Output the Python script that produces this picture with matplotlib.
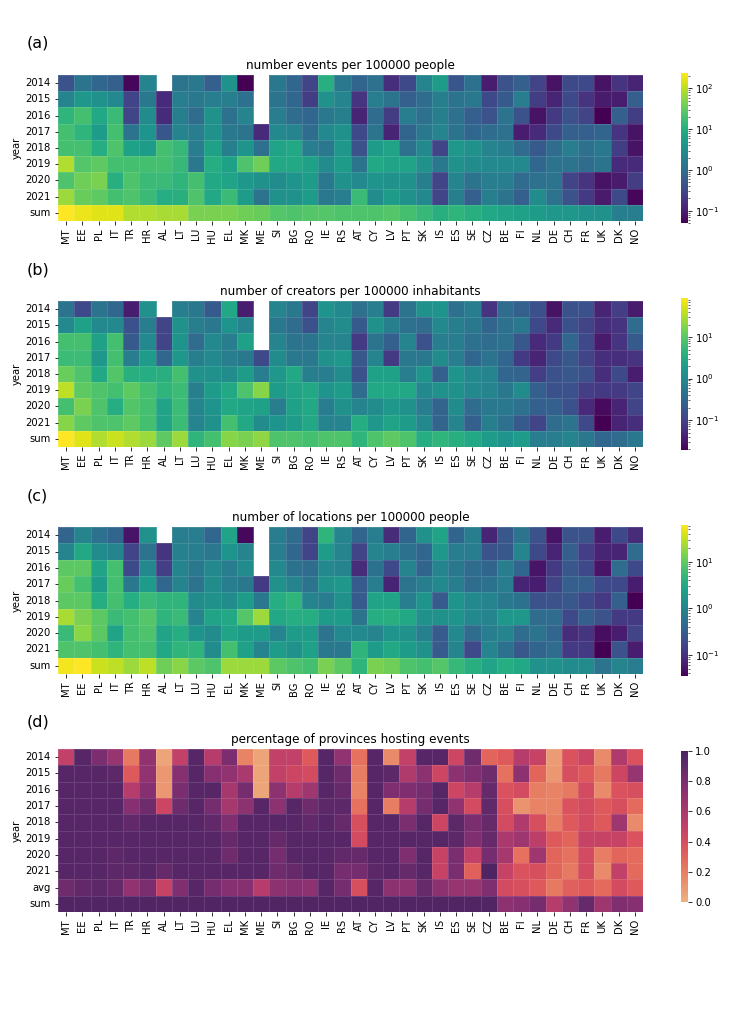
import numpy as np
import pandas as pd
import matplotlib
matplotlib.use("Agg")
import matplotlib.pyplot as plt
import seaborn as sns
from matplotlib.colors import LogNorm

nan = np.nan
countries = ["MT", "EE", "PL", "IT", "TR", "HR", "AL", "LT", "LU", "HU", "EL", "MK",
             "ME", "SI", "BG", "RO", "IE", "RS", "AT", "CY", "LV", "PT", "SK", "IS",
             "ES", "SE", "CZ", "BE", "FI", "NL", "DE", "CH", "FR", "UK", "DK", "NO"]
years = ["2014", "2015", "2016", "2017", "2018", "2019", "2020", "2021"]
rows_abc = years + ["sum"]
rows_d = years + ["avg", "sum"]

# (a) number of events per 100000 people, log10 values
events_log10 = [
    [-0.38, 0.10, -0.09, -0.20, -1.23, 0.36, nan, 0.10, 0.17, -0.20, 0.54, -1.30, nan, 0.17, -0.09, -0.56, 1.02, 0.17, -0.12, 0.06, -0.82, -0.49, 0.36, 0.72, -0.31, 0.06, -1.01, -0.38, -0.20, -0.56, -1.12, -0.49, -0.49, -1.12, -0.75, -0.93],
    [0.36, 0.65, 0.54, 0.43, -0.56, 0.17, -0.86, 0.25, 0.17, 0.25, 0.28, 0.06, nan, 0.10, -0.09, -0.64, 0.54, 0.36, -0.75, 0.25, 0.10, -0.20, -0.01, 0.28, 0.10, 0.17, -0.49, -0.27, 0.25, -0.64, -0.93, -0.49, -0.75, -1.04, -1.01, -0.20],
    [1.09, 1.28, 0.91, 1.20, -0.56, 0.47, -0.86, 0.28, -0.01, 0.54, 0.06, 0.36, nan, 0.25, -0.01, -0.09, 0.17, 0.28, -0.93, -0.01, -0.64, 0.25, 0.06, 0.28, 0.06, -0.20, -0.38, 0.10, -0.38, -1.12, -0.67, -0.38, -0.56, -1.30, -0.20, -0.64],
    [1.28, 1.09, 0.72, 1.28, 0.10, 0.61, -0.31, 0.36, 0.25, 0.54, 0.17, 0.10, -0.86, 0.43, 0.36, -0.01, 0.43, 0.54, -0.49, 0.10, -0.93, -0.12, 0.17, 0.36, 0.10, -0.09, -0.01, 0.06, -1.01, -0.86, -0.49, -0.20, -0.20, -0.12, -0.75, -1.12],
    [1.28, 1.28, 0.98, 1.35, 0.80, 0.72, 1.28, 1.17, 0.25, 0.80, 0.28, 0.61, 0.06, 0.83, 0.91, 0.25, 0.17, 0.65, -0.38, 0.72, 0.83, 0.06, 0.43, -0.56, 0.65, 0.54, 0.36, 0.25, -0.01, -0.27, -0.01, 0.25, 0.06, 0.17, -0.64, -1.12],
    [1.94, 1.39, 1.46, 1.28, 1.28, 1.28, 1.28, 1.17, 0.17, 0.98, 0.80, 1.35, 1.57, 0.91, 0.91, 0.80, 0.47, 0.72, 0.10, 0.91, 0.83, 0.83, 0.54, 0.17, 0.54, 0.47, 0.43, 0.43, 0.43, -0.09, 0.10, 0.10, -0.01, 0.10, -0.86, -0.86],
    [1.35, 1.57, 1.64, 1.02, 1.35, 1.20, 1.20, 1.09, 1.28, 0.91, 0.83, 0.65, 0.54, 0.47, 0.61, 0.72, 0.17, 0.54, 0.43, 0.61, 0.54, 0.54, 0.28, -0.56, 0.36, 0.10, 0.25, 0.25, -0.01, 0.06, 0.10, -0.56, -0.75, -1.12, -1.04, -0.64],
    [1.83, 1.53, 1.46, 1.28, 1.35, 1.20, 0.98, 1.02, 1.35, 0.91, 1.20, 0.72, 0.10, 0.54, 0.54, 0.72, 0.17, 0.25, 1.20, 0.47, 0.72, 0.54, 0.43, -0.56, 0.28, -0.20, 0.28, 0.10, -0.20, 0.47, 0.10, -0.38, -0.67, -1.04, -0.49, -1.23],
    [2.38, 2.27, 2.20, 2.20, 1.94, 1.94, 1.90, 1.90, 1.64, 1.64, 1.64, 1.57, 1.53, 1.39, 1.35, 1.39, 1.39, 1.35, 1.35, 1.35, 1.39, 1.28, 1.17, 1.02, 1.09, 1.02, 0.91, 0.83, 0.80, 0.72, 0.65, 0.65, 0.54, 0.54, 0.28, 0.25],
]

# (b) number of creators per 100000 inhabitants, log10 values
creators_log10 = [
    [-0.33, -0.91, -0.33, -0.51, -1.43, 0.11, nan, -0.18, -0.26, -0.70, 0.48, -1.43, nan, -0.07, -0.26, -0.99, 0.18, 0.00, -0.37, -0.18, -1.10, -0.33, 0.11, 0.18, -0.37, -0.18, -1.17, -0.44, -0.62, -0.81, -1.54, -0.81, -0.81, -1.35, -1.06, -1.46],
    [0.00, 0.37, 0.00, 0.00, -0.81, -0.18, -0.99, 0.11, -0.15, -0.26, 0.18, -0.07, nan, -0.26, -0.44, -0.81, -0.07, 0.04, -0.70, 0.11, -0.15, -0.37, -0.44, 0.00, -0.15, -0.26, -0.55, -0.37, -0.26, -0.91, -1.28, -0.81, -0.99, -1.24, -1.17, -0.44],
    [0.84, 0.84, 0.37, 0.84, -0.70, 0.00, -0.99, 0.18, -0.44, 0.00, -0.18, 0.37, nan, -0.07, -0.33, -0.33, -0.07, -0.07, -1.10, -0.33, -0.62, -0.07, -0.81, -0.18, -0.18, -0.37, -0.44, -0.37, -0.73, -1.28, -1.10, -0.51, -0.91, -1.46, -1.17, -0.70],
    [0.77, 0.77, 0.22, 0.84, -0.18, 0.29, -0.51, 0.22, -0.15, 0.00, -0.18, -0.26, -0.91, 0.04, -0.26, -0.26, 0.11, 0.22, -0.73, -0.07, -1.10, -0.26, -0.26, 0.04, -0.18, -0.51, -0.33, -0.51, -1.10, -1.35, -0.91, -0.73, -0.99, -1.24, -1.24, -1.17],
    [1.10, 0.92, 0.48, 0.95, 0.59, 0.55, 0.59, 0.84, 0.11, 0.11, 0.04, 0.29, -0.18, 0.22, 0.48, -0.15, -0.18, 0.04, -0.81, 0.37, 0.37, -0.18, 0.18, -0.62, 0.18, 0.00, -0.07, -0.51, -0.55, -1.06, -0.81, -0.73, -0.81, -1.24, -0.91, -1.43],
    [1.57, 1.03, 0.92, 0.84, 1.03, 0.84, 0.66, 0.77, -0.15, 0.29, 0.48, 0.92, 1.28, 0.29, 0.40, 0.48, 0.18, 0.29, -0.44, 0.48, 0.48, 0.48, 0.00, 0.11, 0.11, 0.00, -0.07, -0.26, 0.04, -0.62, -0.81, -0.81, -1.06, -1.10, -1.10, -0.99],
    [0.84, 1.21, 0.92, 0.55, 0.95, 0.84, 0.40, 0.77, -0.07, 0.18, 0.48, 0.40, 0.37, -0.18, 0.37, 0.48, -0.18, 0.11, -0.07, 0.04, 0.22, 0.11, -0.18, -0.55, 0.04, -0.44, -0.26, -0.26, -0.37, -0.62, -0.62, -0.81, -1.28, -1.61, -1.35, -0.99],
    [1.28, 1.03, 0.92, 0.92, 1.03, 0.84, 0.40, 0.77, -0.07, 0.11, 0.84, 0.48, 0.04, 0.18, 0.29, 0.48, -0.07, -0.07, 0.55, 0.22, 0.40, 0.29, 0.00, -0.55, -0.07, -0.62, -0.15, -0.37, -0.70, -0.99, -0.44, -0.33, -0.91, -1.72, -1.35, -1.24],
    [1.94, 1.76, 1.50, 1.65, 1.50, 1.39, 1.03, 1.39, 0.66, 0.84, 1.28, 1.21, 1.32, 0.92, 0.92, 0.84, 0.92, 0.92, 0.66, 0.92, 1.03, 0.92, 0.55, 0.66, 0.59, 0.48, 0.29, 0.18, 0.29, -0.18, -0.18, -0.07, -0.26, -0.51, -0.44, -0.26],
]

# (c) number of locations per 100000 people, log10 values
locations_log10 = [
    [-0.41, 0.01, -0.25, -0.41, -1.29, 0.17, nan, -0.09, -0.09, -0.38, 0.43, -1.39, nan, -0.09, -0.32, -0.80, 0.66, 0.01, -0.41, -0.09, -1.06, -0.41, 0.17, 0.43, -0.41, -0.09, -1.13, -0.58, -0.22, -0.64, -1.29, -0.64, -0.64, -1.19, -0.74, -1.06],
    [0.01, 0.49, 0.11, 0.01, -0.80, -0.22, -0.96, -0.06, -0.09, -0.15, 0.23, 0.01, nan, -0.09, -0.38, -0.80, 0.33, 0.01, -0.80, 0.01, -0.09, -0.25, -0.38, 0.27, -0.09, -0.09, -0.64, -0.58, 0.01, -0.74, -1.13, -0.48, -0.87, -1.13, -1.13, -0.32],
    [0.98, 0.98, 0.43, 0.82, -0.74, 0.07, -0.87, 0.01, -0.15, 0.07, -0.09, 0.11, nan, 0.07, -0.25, -0.32, 0.07, 0.01, -1.06, -0.25, -0.74, 0.01, -0.41, 0.01, -0.15, -0.32, -0.41, -0.09, -0.38, -1.29, -0.90, -0.58, -0.74, -1.29, -0.32, -0.74],
    [1.04, 0.82, 0.33, 0.82, -0.15, 0.33, -0.38, 0.01, -0.22, 0.11, -0.09, -0.15, -0.90, 0.17, 0.01, -0.22, 0.17, 0.27, -0.54, -0.09, -1.13, -0.22, -0.09, 0.07, -0.09, -0.32, -0.25, -0.09, -1.13, -1.19, -0.80, -0.48, -0.48, -0.74, -0.74, -1.19],
    [0.98, 0.98, 0.56, 0.82, 0.56, 0.75, 0.66, 0.66, 0.11, 0.17, 0.11, 0.33, -0.15, 0.56, 0.66, 0.01, -0.09, 0.17, -0.54, 0.43, 0.43, -0.09, 0.23, -0.54, 0.23, 0.07, 0.01, -0.15, -0.25, -0.64, -0.64, -0.58, -0.74, -0.90, -0.48, -1.45],
    [1.37, 1.14, 0.98, 0.75, 0.82, 0.92, 0.66, 0.75, 0.01, 0.43, 0.49, 0.92, 1.30, 0.49, 0.56, 0.56, 0.33, 0.33, -0.22, 0.56, 0.59, 0.49, 0.17, 0.17, 0.23, 0.07, 0.01, 0.27, 0.27, -0.32, -0.32, -0.74, -0.48, -0.64, -0.90, -0.90],
    [0.75, 1.21, 0.98, 0.43, 0.82, 0.88, 0.43, 0.56, 0.23, 0.11, 0.43, 0.33, 0.33, 0.01, 0.33, 0.33, -0.22, 0.07, 0.07, 0.01, 0.23, 0.17, -0.06, -0.54, 0.07, -0.32, -0.09, 0.01, -0.32, -0.22, -0.38, -1.06, -0.96, -1.35, -1.19, -0.80],
    [0.88, 0.88, 0.82, 0.66, 0.82, 0.82, 0.49, 0.66, 0.66, 0.11, 0.82, 0.40, 0.01, 0.33, 0.17, 0.40, -0.15, -0.15, 0.66, 0.33, 0.49, 0.33, 0.17, -0.54, 0.01, -0.74, 0.01, -0.25, -0.58, -0.41, -0.32, -0.90, -0.90, -1.45, -0.64, -1.19],
    [1.73, 1.79, 1.53, 1.47, 1.30, 1.47, 1.08, 1.21, 0.98, 0.88, 1.30, 1.30, 1.30, 0.98, 0.88, 0.82, 1.14, 0.98, 0.66, 1.14, 1.08, 0.88, 0.82, 0.92, 0.72, 0.59, 0.43, 0.56, 0.49, 0.17, 0.17, 0.11, 0.11, -0.22, 0.01, -0.09],
]

# (d) share of provinces hosting events
provinces_share = [
    [0.50, 0.95, 0.80, 0.68, 0.22, 0.70, 0.05, 0.50, 0.95, 0.55, 0.80, 0.18, 0.05, 0.50, 0.50, 0.35, 0.95, 0.70, 0.25, 0.95, 0.15, 0.50, 0.95, 0.95, 0.45, 0.85, 0.30, 0.35, 0.55, 0.48, 0.08, 0.38, 0.45, 0.15, 0.58, 0.38],
    [0.95, 0.95, 0.95, 0.92, 0.35, 0.70, 0.10, 0.75, 0.95, 0.75, 0.70, 0.60, 0.05, 0.50, 0.45, 0.42, 0.95, 0.85, 0.20, 0.95, 0.92, 0.58, 0.72, 0.45, 0.72, 0.78, 0.85, 0.25, 0.72, 0.30, 0.10, 0.40, 0.35, 0.22, 0.45, 0.68],
    [0.95, 0.95, 0.95, 0.95, 0.55, 0.75, 0.10, 0.80, 0.95, 0.95, 0.62, 0.82, 0.05, 0.72, 0.55, 0.65, 0.95, 0.88, 0.18, 0.95, 0.78, 0.78, 0.82, 0.95, 0.45, 0.55, 0.88, 0.38, 0.42, 0.20, 0.18, 0.22, 0.42, 0.15, 0.38, 0.40],
    [0.95, 0.95, 0.95, 0.95, 0.75, 0.85, 0.45, 0.85, 0.95, 0.82, 0.62, 0.72, 0.95, 0.72, 0.95, 0.85, 0.92, 0.92, 0.25, 0.95, 0.20, 0.55, 0.82, 0.95, 0.70, 0.42, 0.90, 0.40, 0.12, 0.18, 0.18, 0.38, 0.42, 0.35, 0.40, 0.28],
    [0.95, 0.95, 0.95, 0.95, 0.90, 0.95, 0.95, 0.95, 0.95, 0.90, 0.78, 0.95, 0.95, 0.95, 0.95, 0.90, 0.95, 0.88, 0.40, 0.95, 0.95, 0.80, 0.95, 0.45, 0.92, 0.80, 0.88, 0.42, 0.58, 0.40, 0.20, 0.35, 0.42, 0.35, 0.65, 0.15],
    [0.95, 0.95, 0.95, 0.95, 0.95, 0.95, 0.95, 0.95, 0.95, 0.95, 0.88, 0.95, 0.95, 0.88, 0.95, 0.95, 0.95, 0.95, 0.42, 0.95, 0.95, 0.95, 0.95, 0.95, 0.92, 0.78, 0.88, 0.60, 0.65, 0.52, 0.35, 0.30, 0.48, 0.48, 0.48, 0.38],
    [0.95, 0.95, 0.95, 0.92, 0.95, 0.95, 0.95, 0.95, 0.95, 0.95, 0.85, 0.95, 0.95, 0.82, 0.95, 0.95, 0.95, 0.90, 0.88, 0.95, 0.95, 0.78, 0.95, 0.48, 0.80, 0.50, 0.82, 0.62, 0.25, 0.65, 0.30, 0.25, 0.42, 0.20, 0.30, 0.28],
    [0.95, 0.95, 0.95, 0.92, 0.92, 0.95, 0.88, 0.95, 0.95, 0.95, 0.95, 0.95, 0.95, 0.85, 0.88, 0.95, 0.95, 0.82, 0.82, 0.92, 0.95, 0.88, 0.95, 0.48, 0.80, 0.32, 0.98, 0.48, 0.38, 0.40, 0.30, 0.22, 0.42, 0.15, 0.50, 0.28],
    [0.85, 0.90, 0.92, 0.88, 0.70, 0.80, 0.48, 0.78, 0.95, 0.82, 0.75, 0.75, 0.55, 0.72, 0.75, 0.72, 0.95, 0.82, 0.40, 0.95, 0.72, 0.72, 0.88, 0.72, 0.68, 0.68, 0.78, 0.42, 0.40, 0.35, 0.22, 0.32, 0.35, 0.28, 0.42, 0.35],
    [0.97, 0.97, 0.97, 0.97, 0.97, 0.97, 0.97, 0.97, 0.97, 0.97, 0.97, 0.97, 0.97, 0.97, 0.97, 0.97, 0.97, 0.97, 0.97, 0.97, 0.97, 0.97, 0.97, 0.97, 0.97, 0.97, 0.97, 0.72, 0.75, 0.82, 0.55, 0.70, 0.88, 0.65, 0.78, 0.75],
]

W, H = 731, 1034
fig = plt.figure(figsize=(W / 72, H / 72), dpi=72)


def rect(x0, y0, x1, y1):
    return [x0 / W, 1 - y1 / H, (x1 - x0) / W, (y1 - y0) / H]


panels = [
    ("(a)", 43, "number events per 100000 people", 10 ** np.array(events_log10), rows_abc,
     (58, 75, 643, 221), (681, 73, 688, 223), LogNorm(0.05, 240), "viridis"),
    ("(b)", 270, "number of creators per 100000 inhabitants", 10 ** np.array(creators_log10), rows_abc,
     (58, 301, 643, 447), (681, 298, 688, 450), LogNorm(0.019, 87), "viridis"),
    ("(c)", 496, "number of locations per 100000 people", 10 ** np.array(locations_log10), rows_abc,
     (58, 527, 643, 674), (681, 525, 688, 676), LogNorm(0.035, 62), "viridis"),
    ("(d)", 722, "percentage of provinces hosting events", np.array(provinces_share), rows_d,
     (58, 749, 643, 912), (681, 751, 688, 902), None, "flare"),
]

for label, ly, title, data, rows, hr, cr, norm, cmap in panels:
    ax = fig.add_axes(rect(*hr))
    cax = fig.add_axes(rect(*cr))
    df = pd.DataFrame(data, index=rows, columns=countries)
    kw = dict(norm=norm) if norm is not None else dict(vmin=0, vmax=1)
    sns.heatmap(df, ax=ax, cbar_ax=cax, cmap=cmap, linewidths=0.5,
                linecolor=(1, 1, 1, 0.12), **kw)
    ax.set_xticks(np.arange(len(countries)) + 0.5)
    ax.set_xticklabels(countries, rotation=90, fontsize=10)
    ax.set_yticks(np.arange(len(rows)) + 0.5)
    ax.set_yticklabels(rows, rotation=0, fontsize=10)
    ax.set_ylabel("year", fontsize=10)
    ax.set_title(title, fontsize=12)
    cax.tick_params(labelsize=10)
    fig.text(27 / W, 1 - ly / H, label, fontsize=16, va="center", ha="left")

fig.savefig("out.png", dpi=72)
